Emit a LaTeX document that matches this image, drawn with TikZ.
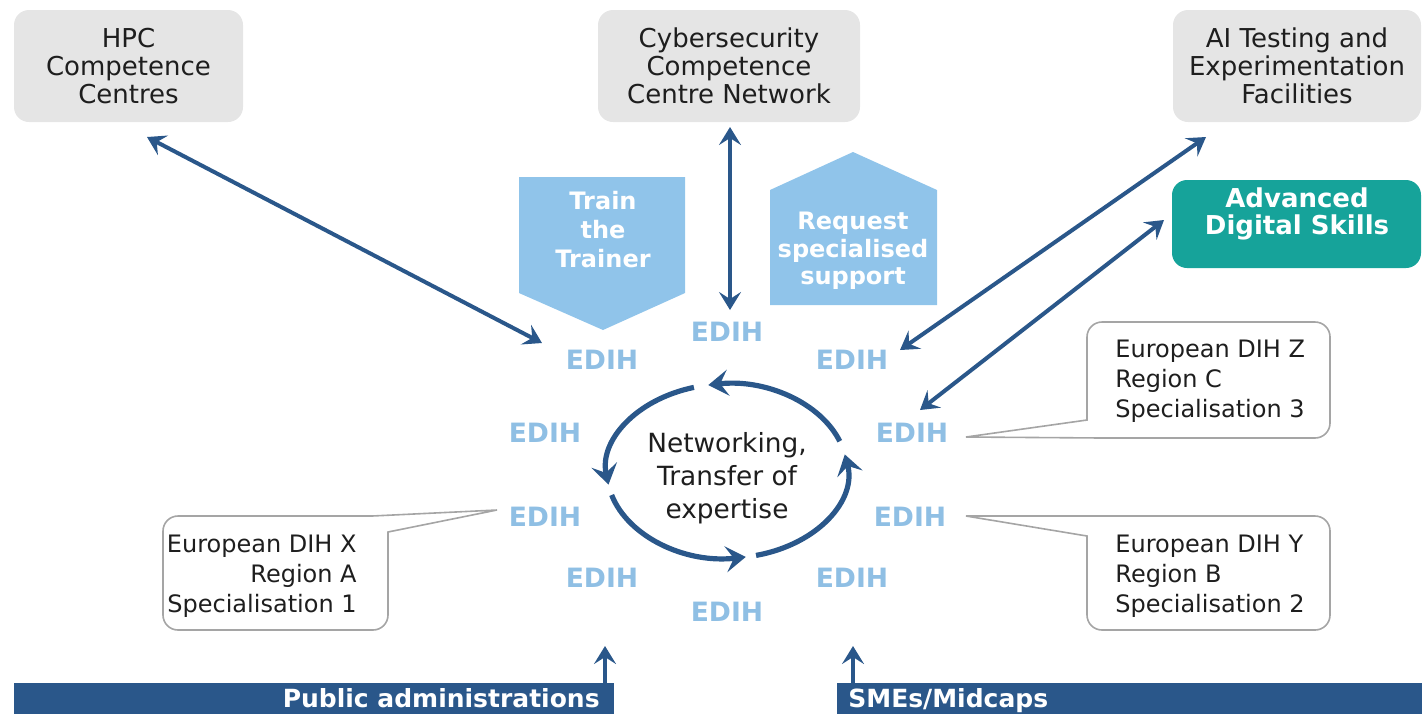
\documentclass[tikz,border=0pt]{standalone}
\usepackage{fontspec}
\setmainfont{DejaVu Sans}
\usetikzlibrary{arrows.meta}
\definecolor{dkblue}{RGB}{42,87,138}
\definecolor{ltblue}{RGB}{144,196,234}
\definecolor{edihblue}{RGB}{143,191,228}
\definecolor{boxgray}{RGB}{229,229,229}
\definecolor{tealbox}{RGB}{22,163,154}
\definecolor{callgray}{RGB}{165,165,165}
\definecolor{txt}{RGB}{30,30,30}
\begin{document}
\begin{tikzpicture}[x=0.5pt,y=-0.5pt,
  >={Stealth[length=9pt,width=11pt,inset=3.5pt]},
  graybox/.style={fill=boxgray, rounded corners=7.5pt, align=center, text=txt,
    font=\fontsize{13}{14}\selectfont, inner sep=0pt},
  edih/.style={text=edihblue, font=\bfseries\fontsize{13.3}{15}\selectfont, inner sep=0pt},
  dbl/.style={draw=dkblue, line width=2pt, <->},
  uparrow/.style={draw=dkblue, line width=2.2pt, ->},
  cyc/.style={draw=dkblue, line width=2.6pt, -{Stealth[length=10pt,width=13pt,inset=4pt]}},
  callout/.style={fill=white, draw=callgray, line width=0.8pt},
  calltext/.style={text=txt, font=\fontsize{12}{15}\selectfont, inner sep=0pt},
  shapetext/.style={text=white, align=center, inner sep=0pt},
  bartext/.style={text=white, font=\bfseries\fontsize{12.5}{14}\selectfont, inner sep=0pt}
]
\useasboundingbox (0,0) rectangle (1422,714);

% top boxes
\node[graybox, minimum width=114.5pt, minimum height=56pt] (hpc) at (128.5,66) {HPC\\Competence\\Centres};
\node[graybox, minimum width=131pt, minimum height=56pt] (cyber) at (729,66) {Cybersecurity\\Competence\\Centre Network};
\node[graybox, minimum width=124pt, minimum height=56pt] (ai) at (1297,66) {AI Testing and\\Experimentation\\Facilities};
\node[fill=tealbox, rounded corners=7.5pt, minimum width=124.5pt, minimum height=44pt, inner sep=0pt] (ads) at (1296.5,224) {};
\node[shapetext, font=\bfseries\fontsize{13}{13.5}\selectfont] (adstext) at (1297,214) {Advanced\\Digital Skills};

% pentagon shapes
\fill[ltblue] (519,177) -- (685,177) -- (685,293) -- (603,330) -- (519,293) -- cycle;
\node[shapetext, font=\bfseries\fontsize{12}{14.5}\selectfont] (train) at (603,230) {Train\\the\\Trainer};
\fill[ltblue] (770,305) -- (770,190) -- (853,152) -- (937,190) -- (937,305) -- cycle;
\node[shapetext, font=\bfseries\fontsize{12}{13.75}\selectfont] (request) at (853,251) {Request\\specialised\\support};

% EDIH labels
\node[edih] (e1) at (602,360) {EDIH};
\node[edih] (e2) at (727,332) {EDIH};
\node[edih] (e3) at (852,360) {EDIH};
\node[edih] (e4) at (545,433) {EDIH};
\node[edih] (e5) at (912,433) {EDIH};
\node[edih] (e6) at (545,517) {EDIH};
\node[edih] (e7) at (910,517) {EDIH};
\node[edih] (e8) at (602,578) {EDIH};
\node[edih] (e9) at (852,578) {EDIH};
\node[edih] (e10) at (727,612) {EDIH};

% connector end points
\coordinate (hpcEnd) at (147,137);
\coordinate (e1End) at (542,343);
\coordinate (cyberEnd) at (730,127);
\coordinate (e2End) at (730,310);
\coordinate (aiEnd) at (1206,137);
\coordinate (e3End) at (900,350);
\coordinate (adsEnd) at (1164,220);
\coordinate (e5End) at (920,410);

\draw[dbl] (hpcEnd) -- (e1End);
\draw[dbl] (cyberEnd) -- (e2End);
\draw[dbl] (aiEnd) -- (e3End);
\draw[dbl] (adsEnd) -- (e5End);

% networking cycle
\coordinate (netc) at (727,471);
\foreach \a/\b in {20/99,106/189,196/279,284/371}
  \draw[cyc] ([shift={(\a:60pt and 43.5pt)}]netc) arc[start angle=\a, end angle=\b, x radius=60pt, y radius=43.5pt];
\node[text=txt, align=center, font=\fontsize{13.2}{16.5}\selectfont, inner sep=0pt] (net) at (727,478) {Networking,\\Transfer of\\expertise};

% callouts
\draw[callout] (163,531) arc[start angle=180, end angle=90, radius=7.5pt] -- (372,516) -- (497,510) -- (388,532) -- (388,615)
  arc[start angle=0, end angle=-90, radius=7.5pt] -- (178,630) arc[start angle=-90, end angle=-180, radius=7.5pt] -- cycle;
\node[calltext, align=right, anchor=east] (cx) at (357,576) {European DIH X\\Region A\\Specialisation 1};

\draw[callout] (1087,420) -- (1087,337) arc[start angle=180, end angle=90, radius=7.5pt] -- (1315,322)
  arc[start angle=90, end angle=0, radius=7.5pt] -- (1330,423) arc[start angle=0, end angle=-90, radius=7.5pt]
  -- (1103,438) -- (966,437) -- cycle;
\node[calltext, align=left, anchor=west] (cz) at (1115,381) {European DIH Z\\Region C\\Specialisation 3};

\draw[callout] (1087,536) -- (966,516) -- (1315,516) arc[start angle=90, end angle=0, radius=7.5pt] -- (1330,615)
  arc[start angle=0, end angle=-90, radius=7.5pt] -- (1102,630) arc[start angle=-90, end angle=-180, radius=7.5pt] -- cycle;
\node[calltext, align=left, anchor=west] (cy) at (1115,576) {European DIH Y\\Region B\\Specialisation 2};

% bottom bars
\fill[dkblue] (14,683) rectangle (614,714);
\node[bartext, anchor=base east] (pub) at (600,707) {Public administrations};
\fill[dkblue] (837,683) rectangle (1422,714);
\node[bartext, anchor=base west] (sme) at (848,707) {SMEs/Midcaps};
\coordinate (pubTop) at (605,683);
\coordinate (pubTip) at (605,646);
\coordinate (smeTop) at (853,683);
\coordinate (smeTip) at (853,646);
\draw[uparrow] (pubTop) -- (pubTip);
\draw[uparrow] (smeTop) -- (smeTip);
\end{tikzpicture}
\end{document}
